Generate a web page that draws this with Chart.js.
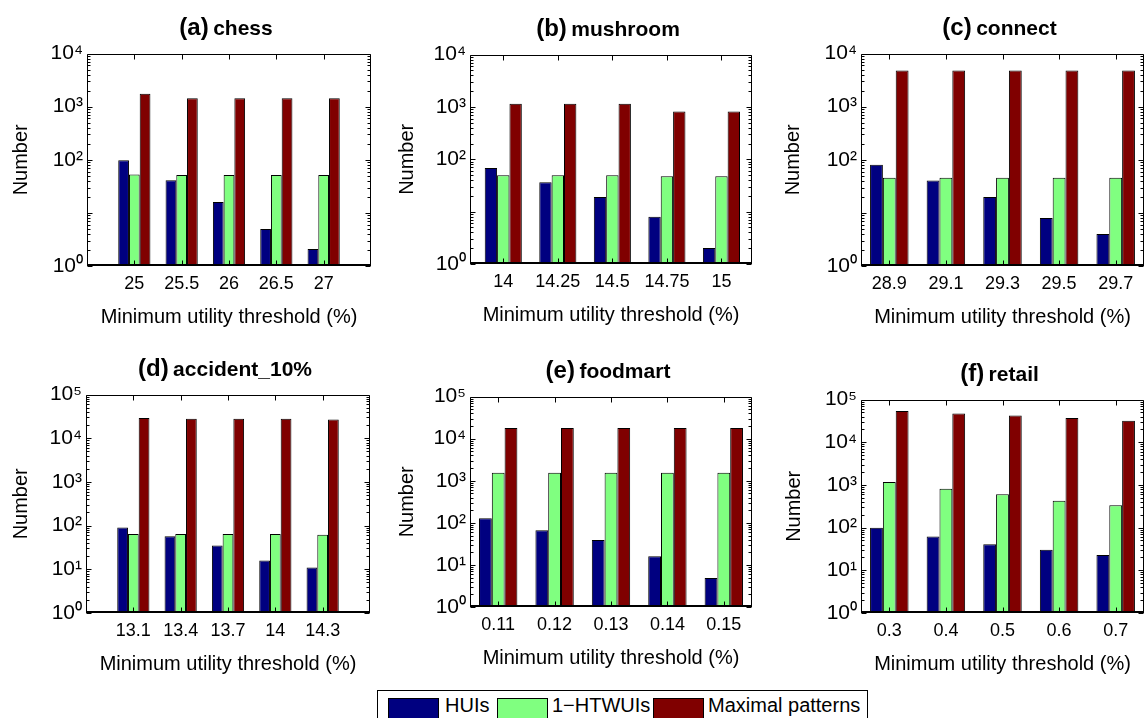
<!DOCTYPE html>
<html><head><meta charset="utf-8">
<script src="https://cdn.jsdelivr.net/npm/chart.js@4.4.1/dist/chart.umd.min.js"></script>
<style>
html,body{margin:0;padding:0;background:#fff;}
body{width:1145px;height:718px;position:relative;overflow:hidden;font-family:'Liberation Sans',Arial,Helvetica,sans-serif;color:#000;}
canvas{position:absolute;}
.ttl{position:absolute;text-align:center;font-weight:bold;line-height:26px;white-space:nowrap;}
.ttl .tag{font-size:24px;}
.ttl .name{font-size:21px;}
#legend{position:absolute;left:377px;top:690px;width:491px;height:40px;border:1px solid #000;box-sizing:border-box;background:#fff;}
.sw{position:absolute;top:7px;width:51px;height:21px;border:1px solid #000;box-sizing:border-box;}
.lt{position:absolute;top:4px;font-size:20px;line-height:20px;white-space:nowrap;}
</style></head><body>
<div id="legend"></div>
<script>
// ---------- data ----------
const seriesNames = ['HUIs', '1\u2212HTWUIs', 'Maximal patterns'];
const seriesColors = ['#000080', '#80FF80', '#800000'];

const chessThresholds = ['25', '25.5', '26', '26.5', '27'];
const chessHUIs = [98, 41, 16, 5, 2.1];
const chessHTWUIs = [53, 52, 52, 52, 52];
const chessMaximal = [1750, 1440, 1440, 1440, 1440];

const mushroomThresholds = ['14', '14.25', '14.5', '14.75', '15'];
const mushroomHUIs = [68, 36.6, 19, 8, 2.03];
const mushroomHTWUIs = [49.5, 49.5, 49.5, 47.6, 47.6];
const mushroomMaximal = [1155, 1155, 1155, 816, 816];

const connectThresholds = ['28.9', '29.1', '29.3', '29.5', '29.7'];
const connectHUIs = [81, 40.7, 19.9, 8, 4];
const connectHTWUIs = [46, 46, 46, 46, 46];
const connectMaximal = [4800, 4800, 4800, 4800, 4800];

const accidentThresholds = ['13.1', '13.4', '13.7', '14', '14.3'];
const accidentHUIs = [91, 57, 35, 16, 11];
const accidentHTWUIs = [64.5, 64.5, 64.5, 64.5, 62];
const accidentMaximal = [29000, 28000, 28000, 28000, 27000];

const foodmartThresholds = ['0.11', '0.12', '0.13', '0.14', '0.15'];
const foodmartHUIs = [129, 67, 39, 16, 4.9];
const foodmartHTWUIs = [1540, 1540, 1540, 1540, 1540];
const foodmartMaximal = [18000, 18000, 18000, 18000, 18000];

const retailThresholds = ['0.3', '0.4', '0.5', '0.6', '0.7'];
const retailHUIs = [100, 62, 41, 30.5, 23];
const retailHTWUIs = [1170, 810, 605, 427, 333];
const retailMaximal = [53800, 47500, 42600, 37000, 32000];

const topRowYTicks = [1, 10, 100, 1000, 10000];
const bottomRowYTicks = [1, 10, 100, 1000, 10000, 100000];

const xAxisTitle = 'Minimum utility threshold (%)';
const yAxisTitle = 'Number';

// ---------- layout ----------
const panels = [
  {tag:'(a)', name:'chess', cats:chessThresholds, vals:[chessHUIs, chessHTWUIs, chessMaximal], yTicks:topRowYTicks, hideY1:true,
   L:87, T:51, R:371, B:266, xMin:0, xMax:6, cl:0, yTitleDist:66},
  {tag:'(b)', name:'mushroom', cats:mushroomThresholds, vals:[mushroomHUIs, mushroomHTWUIs, mushroomMaximal], yTicks:topRowYTicks, hideY1:true,
   L:470, T:52, R:752, B:264, xMin:0.39, xMax:5.56, cl:380, yTitleDist:63},
  {tag:'(c)', name:'connect', cats:connectThresholds, vals:[connectHUIs, connectHTWUIs, connectMaximal], yTicks:topRowYTicks, hideY1:true,
   L:861, T:51, R:1144, B:266, xMin:0.5, xMax:5.5, cl:771, yTitleDist:68},
  {tag:'(d)', name:'accident_10%', cats:accidentThresholds, vals:[accidentHUIs, accidentHTWUIs, accidentMaximal], yTicks:bottomRowYTicks, hideY1:false,
   L:86, T:392, R:370, B:613, xMin:0, xMax:6, cl:0, yTitleDist:65},
  {tag:'(e)', name:'foodmart', cats:foodmartThresholds, vals:[foodmartHUIs, foodmartHTWUIs, foodmartMaximal], yTicks:bottomRowYTicks, hideY1:false,
   L:470, T:394, R:752, B:607, xMin:0.5, xMax:5.5, cl:380, yTitleDist:63},
  {tag:'(f)', name:'retail', cats:retailThresholds, vals:[retailHUIs, retailHTWUIs, retailMaximal], yTicks:bottomRowYTicks, hideY1:false,
   L:861, T:397, R:1144, B:613, xMin:0.5, xMax:5.5, cl:771, yTitleDist:67}
];

const SUP = ['\u2070', '\u00B9', '\u00B2', '\u00B3', '\u2074', '\u2075'];

Chart.defaults.font.family = "'Liberation Sans', Arial, Helvetica, sans-serif";
Chart.defaults.color = '#000';

const framePlugin = {
  id: 'matlabFrame',
  afterDatasetsDraw(chart) {
    const {ctx, chartArea: a} = chart;
    const x = chart.scales.x, y = chart.scales.y;
    const l = Math.round(a.left) + 0.5, r = Math.round(a.right) - 0.5;
    const t = Math.round(a.top) + 0.5, b = Math.round(a.bottom) - 0.5;
    ctx.save();
    ctx.strokeStyle = '#000';
    ctx.lineWidth = 1;
    ctx.beginPath();
    ctx.rect(l, t, r - l, b - t);
    y.ticks.forEach(tk => {
      const py = Math.round(y.getPixelForValue(tk.value)) + 0.5;
      ctx.moveTo(l, py); ctx.lineTo(l + 5, py);
      ctx.moveTo(r, py); ctx.lineTo(r - 5, py);
    });
    for (let d = y.min; d < y.max; d *= 10) {
      for (let m = 2; m <= 9; m++) {
        const py = Math.round(y.getPixelForValue(m * d)) + 0.5;
        ctx.moveTo(l, py); ctx.lineTo(l + 3, py);
        ctx.moveTo(r, py); ctx.lineTo(r - 3, py);
      }
    }
    x.ticks.forEach(tk => {
      const px = Math.round(x.getPixelForValue(tk.value)) + 0.5;
      ctx.moveTo(px, t); ctx.lineTo(px, t + 5);
      ctx.moveTo(px, b); ctx.lineTo(px, b - 5);
    });
    ctx.stroke();
    ctx.beginPath();
    ctx.lineWidth = 2;
    ctx.moveTo(Math.round(a.left), Math.round(a.bottom) - 1);
    ctx.lineTo(Math.round(a.right), Math.round(a.bottom) - 1);
    ctx.stroke();
    ctx.restore();
  }
};

const PAD_TOP = 14, HX = 66, PAD_RIGHT = 1;

panels.forEach(p => {
  const Wy = p.L - p.cl;
  const w = p.R + PAD_RIGHT - p.cl;
  const h = PAD_TOP + (p.B - p.T) + HX;
  const cv = document.createElement('canvas');
  cv.width = w; cv.height = h;
  cv.style.left = p.cl + 'px';
  cv.style.top = (p.T - PAD_TOP) + 'px';
  cv.style.width = w + 'px'; cv.style.height = h + 'px';
  document.body.appendChild(cv);

  const ttl = document.createElement('div');
  ttl.className = 'ttl';
  ttl.style.left = (p.L - 3) + 'px';
  ttl.style.width = (p.R - p.L) + 'px';
  ttl.style.top = (p.T - 37) + 'px';
  ttl.innerHTML = '<span class="tag"></span> <span class="name"></span>';
  ttl.querySelector('.tag').textContent = p.tag;
  ttl.querySelector('.name').textContent = p.name;
  document.body.appendChild(ttl);

  const datasets = seriesNames.map((nm, si) => ({
    label: nm,
    data: p.vals[si].map((v, i) => ({x: i + 1, y: v})),
    backgroundColor: seriesColors[si],
    borderColor: '#000',
    borderWidth: 1,
    categoryPercentage: 0.68,
    barPercentage: 1.0
  }));

  new Chart(cv, {
    type: 'bar',
    data: {datasets},
    plugins: [framePlugin],
    options: {
      responsive: false,
      animation: false,
      devicePixelRatio: 1,
      layout: {padding: {top: PAD_TOP, right: PAD_RIGHT, left: 0, bottom: 0}},
      plugins: {legend: {display: false}, tooltip: {enabled: false}},
      scales: {
        x: {
          type: 'linear',
          offset: false,
          min: p.xMin, max: p.xMax,
          grid: {display: false, drawTicks: false},
          border: {display: false},
          afterBuildTicks: s => { s.ticks = p.cats.map((c, i) => ({value: i + 1})); },
          afterFit: s => { s.height = HX; },
          ticks: {
            autoSkip: false, maxRotation: 0, minRotation: 0, padding: 7,
            font: {size: 18},
            callback: v => p.cats[Math.round(v) - 1]
          },
          title: {display: true, text: xAxisTitle, font: {size: 20}, padding: {top: 0, bottom: 3}}
        },
        y: {
          type: 'logarithmic',
          min: p.yTicks[0], max: p.yTicks[p.yTicks.length - 1],
          grid: {display: false, drawTicks: false},
          border: {display: false},
          afterBuildTicks: s => { s.ticks = p.yTicks.map(v => ({value: v})); },
          afterFit: s => { s.width = Wy; },
          ticks: {
            autoSkip: false, padding: 4,
            font: {size: 21},
            callback: v => {
              const e = Math.round(Math.log10(v));
              if (p.hideY1 && e === 1) return '';
              return '10' + SUP[e];
            }
          },
          title: {display: true, text: yAxisTitle, font: {size: 20}, padding: {top: Wy - p.yTitleDist - 12, bottom: 0}}
        }
      }
    }
  });
});

// legend
const legend = document.getElementById('legend');
const swLeft = [10, 119, 275];
const txLeft = [67, 174, 330];
seriesNames.forEach((nm, i) => {
  const sw = document.createElement('div');
  sw.className = 'sw';
  sw.style.left = swLeft[i] + 'px';
  sw.style.background = seriesColors[i];
  legend.appendChild(sw);
  const tx = document.createElement('div');
  tx.className = 'lt';
  tx.style.left = txLeft[i] + 'px';
  tx.textContent = nm;
  legend.appendChild(tx);
});
</script>
</body></html>
